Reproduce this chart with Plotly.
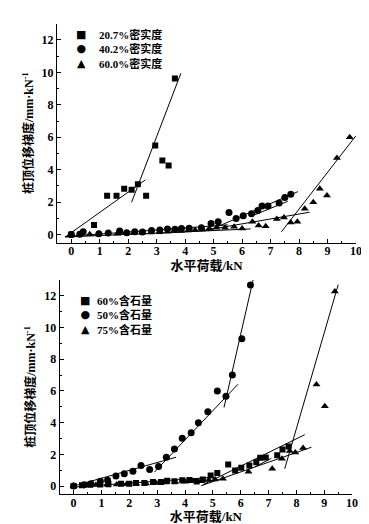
import plotly.graph_objects as go

# ---------------- top panel data (密实度) ----------------
top_names = ["20.7%密实度", "40.2%密实度", "60.0%密实度"]
top_s1_x = [0, 0.8, 1.26, 1.59, 1.86, 2.12, 2.34, 2.63, 2.95, 3.2, 3.42, 3.64]
top_s1_y = [0, 0.6, 2.39, 2.4, 2.82, 2.76, 3.1, 2.39, 5.5, 4.57, 4.26, 9.63]
top_s2_x = [0, 0.3, 0.42, 0.97, 1.3, 1.7, 1.95, 2.23, 2.5, 2.82, 3.11, 3.38, 3.64, 3.87,
            4.14, 4.57, 4.91, 5.16, 5.54, 5.79, 6.04, 6.33, 6.55, 6.7, 6.91, 7.3, 7.5, 7.71]
top_s2_y = [0, 0.02, 0.18, 0.06, 0.1, 0.22, 0.12, 0.18, 0.16, 0.25, 0.29, 0.35, 0.33, 0.37,
            0.39, 0.43, 0.68, 0.8, 1.36, 1.0, 1.17, 1.28, 1.48, 1.77, 1.77, 1.95, 2.28, 2.49]
top_s3_x = [0, 0.65, 0.97, 1.62, 1.9, 2.2, 2.5, 2.8, 3.1, 3.38, 3.6, 3.85, 4.1, 4.35, 4.6,
            4.85, 5.1, 5.4, 5.72, 6.0, 6.36, 6.58, 6.83, 7.22, 7.47, 7.71, 7.94, 8.2, 8.5,
            8.73, 8.98, 9.33, 9.78]
top_s3_y = [0, 0.02, 0.05, 0.06, 0.08, 0.1, 0.12, 0.13, 0.15, 0.18, 0.2, 0.22, 0.25, 0.28,
            0.32, 0.38, 0.43, 0.42, 0.48, 0.38, 0.8, 0.56, 0.51, 0.97, 1.05, 0.74, 0.8, 1.6,
            2.0, 2.82, 2.41, 4.73, 6.0]
# fitted line segments ([x0, x1], [y0, y1])
top_fit_lines = [
    ([-0.22, 2.6], [-0.16, 3.37]),
    ([2.12, 3.85], [2.0, 9.94]),
    ([-0.22, 5.5], [-0.12, 0.6]),
    ([4.8, 7.96], [0.23, 2.65]),
    ([6.3, 7.6], [1.12, 2.05]),
    ([-0.2, 6.3], [-0.15, 0.35]),
    ([4.57, 8.37], [0.23, 1.38]),
    ([7.38, 10.0], [0.17, 6.1]),
]

# ---------------- bottom panel data (含石量) ----------------
bot_names = ["60%含石量", "50%含石量", "75%含石量"]
bot_s1_x = [0, 0.3, 0.6, 0.95, 1.25, 1.7, 2.0, 2.24, 2.54, 2.85, 3.14, 3.36, 3.62, 3.9, 4.16,
            4.42, 4.64, 4.92, 5.16, 5.55, 5.8, 6.02, 6.31, 6.56, 6.7, 6.9, 7.31, 7.5, 7.72]
bot_s1_y = [0, 0.05, 0.08, 0.1, 0.12, 0.15, 0.15, 0.19, 0.19, 0.25, 0.25, 0.33, 0.31, 0.36, 0.38,
            0.29, 0.42, 0.67, 0.82, 1.36, 0.98, 1.15, 1.3, 1.5, 1.78, 1.8, 1.95, 2.3, 2.49]
bot_s2_x = [0, 0.38, 0.62, 0.96, 1.22, 1.52, 1.82, 2.13, 2.42, 2.73, 3.05, 3.33, 3.62, 3.9,
            4.22, 4.48, 4.82, 5.16, 5.47, 5.7, 6.04, 6.35]
bot_s2_y = [0, 0.08, 0.15, 0.3, 0.36, 0.63, 0.77, 0.94, 1.3, 1.05, 1.23, 1.82, 2.34, 3.01,
            3.37, 4.0, 4.69, 6.0, 5.67, 7.0, 9.29, 12.68]
bot_s3_x = [0, 0.4, 0.8, 1.2, 1.55, 1.9, 2.25, 2.6, 2.95, 3.3, 3.65, 4.0, 4.3, 4.58, 4.85,
            5.08, 5.36, 6.28, 7.13, 7.48, 7.76, 7.96, 8.24, 8.72, 9.02, 9.38]
bot_s3_y = [0, 0.03, 0.06, 0.08, 0.1, 0.12, 0.15, 0.17, 0.2, 0.23, 0.25, 0.27, 0.3, 0.31, 0.38,
            0.42, 0.46, 0.9, 1.09, 1.72, 2.22, 2.11, 2.4, 6.4, 5.04, 12.28]
bot_fit_lines = [
    ([0, 3.68], [0, 1.82]),
    ([2.9, 5.9], [0.88, 6.42]),
    ([5.4, 6.47], [4.96, 13.2]),
    ([7.58, 9.5], [1.09, 12.7]),
    ([4.64, 8.3], [0.08, 3.24]),
    ([4.58, 8.54], [0.02, 2.45]),
    ([0, 5.06], [-0.06, 0.56]),
    ([6.5, 7.1], [1.2, 1.75]),
]

x_ticks = list(range(0, 11))
y_ticks = [0, 2, 4, 6, 8, 10, 12]
x_title = "水平荷载/kN"
y_title = "桩顶位移梯度/mm·kN<sup>-1</sup>"

FONT = "Liberation Serif, 'Noto Sans CJK SC', serif"
symbols = ["square", "circle", "triangle-up"]
glyphs = ["■", "●", "▲"]
sizes = [6, 7, 7]

fig = go.Figure()

def add_panel(xs, ys, names, lines, xa, ya):
    for i, (x, y, n) in enumerate(zip(xs, ys, names)):
        fig.add_trace(go.Scatter(
            x=x, y=y, mode="markers", name=n, xaxis=xa, yaxis=ya, showlegend=False,
            marker=dict(symbol=symbols[i], size=sizes[i], color="black"),
        ))
    for lx, ly in lines:
        fig.add_trace(go.Scatter(
            x=lx, y=ly, mode="lines", showlegend=False, xaxis=xa, yaxis=ya,
            line=dict(color="black", width=1), hoverinfo="skip",
        ))

add_panel([top_s1_x, top_s2_x, top_s3_x], [top_s1_y, top_s2_y, top_s3_y],
          top_names, top_fit_lines, "x", "y")
add_panel([bot_s1_x, bot_s2_x, bot_s3_x], [bot_s1_y, bot_s2_y, bot_s3_y],
          bot_names, bot_fit_lines, "x2", "y2")

# legend blocks drawn as text: a column of symbol glyphs and a column of labels
annotations = []
def legend_block(names, x_sym, x_txt, yc):
    annotations.append(dict(xref="paper", yref="paper", x=x_sym, y=yc,
                            text="<br>".join(glyphs), showarrow=False,
                            xanchor="center", yanchor="middle", align="center",
                            font=dict(family="DejaVu Sans", size=11, color="black")))
    annotations.append(dict(xref="paper", yref="paper", x=x_txt, y=yc,
                            text="<br>".join(names), showarrow=False,
                            xanchor="left", yanchor="middle", align="left",
                            font=dict(family=FONT, size=11, color="black", weight="bold")))

legend_block(top_names, 0.080, 0.135, 0.944)
legend_block(bot_names, 0.094, 0.128, 0.380)

axis_common = dict(
    showline=True, linecolor="black", linewidth=1.2, mirror=False,
    ticks="inside", ticklen=4, tickwidth=1, tickcolor="black",
    showgrid=False, zeroline=False,
    tickfont=dict(family=FONT, size=12, color="black", weight="bold"),
    minor=dict(ticks="inside", ticklen=2, tickcolor="black"),
)
title_font = dict(family=FONT, size=12, color="black", weight="bold")
x_title_font = dict(family=FONT, size=13, color="black", weight="bold")

fig.update_layout(
    width=369, height=524,
    margin=dict(l=49, r=21, t=15, b=38),
    plot_bgcolor="white", paper_bgcolor="white",
    font=dict(family=FONT, color="black"),
    showlegend=False,
    annotations=annotations,
    xaxis=dict(domain=[0, 1], range=[-0.5, 10], tickvals=x_ticks, anchor="y",
               ticklabelstandoff=-3,
               title=dict(text=x_title, standoff=0, font=x_title_font),
               minor_dtick=0.5, **axis_common),
    yaxis=dict(domain=[0.5335, 0.9985], range=[-0.5, 13], tickvals=y_ticks, anchor="x",
               title=dict(text=y_title, standoff=5, font=title_font),
               minor_dtick=1, **axis_common),
    xaxis2=dict(domain=[0.009, 0.987], range=[-0.5, 10], tickvals=x_ticks, anchor="y2",
                ticklabelstandoff=-3,
                title=dict(text=x_title, standoff=0, font=x_title_font),
                minor_dtick=0.5, **axis_common),
    yaxis2=dict(domain=[0, 0.4544], range=[-0.5, 13], tickvals=y_ticks, anchor="x2",
                title=dict(text=y_title, standoff=5, font=title_font),
                minor_dtick=1, **axis_common),
)

fig.write_html("out.html")
